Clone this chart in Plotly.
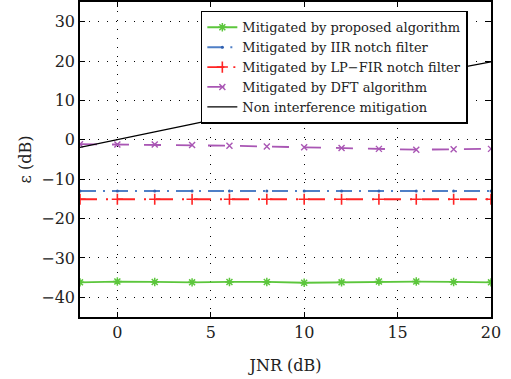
import plotly.graph_objects as go

jnr = [-2, 0, 2, 4, 6, 8, 10, 12, 14, 16, 18, 20]
proposed = [-36.2, -36.0, -36.1, -36.2, -36.1, -36.1, -36.3, -36.2, -36.0, -36.0, -36.1, -36.2]
iir = [-13.0, -13.0, -13.0, -13.0, -13.0, -13.0, -13.0, -13.0, -13.0, -13.0, -13.0, -13.0]
lpfir = [-15.1, -15.1, -15.1, -15.1, -15.1, -15.1, -15.1, -15.1, -15.1, -15.1, -15.1, -15.1]
dft = [-1.1, -1.2, -1.2, -1.3, -1.5, -1.7, -1.9, -2.1, -2.3, -2.5, -2.4, -2.3]
nomit = [-1.9, 0.0, 2.0, 4.0, 6.0, 8.0, 10.0, 12.0, 14.0, 16.0, 18.0, 19.8]

names = ["Mitigated by proposed algorithm", "Mitigated by IIR notch filter",
         "Mitigated by LP\u2212FIR notch filter", "Mitigated by DFT algorithm",
         "Non interference mitigation"]

FONT = "DejaVu Serif, Liberation Serif, serif"
TXT = "#222"
fig = go.Figure()
fig.add_trace(go.Scatter(x=jnr, y=proposed, name=names[0], mode="lines+markers",
                         line=dict(color="#5cc63c", width=1.8),
                         marker=dict(symbol="asterisk-open", size=7, color="#5cc63c",
                                     line=dict(color="#5cc63c", width=1.5))))
fig.add_trace(go.Scatter(x=jnr, y=iir, name=names[1], mode="lines+markers",
                         line=dict(color="#4f7fc6", width=2, dash="16px,7px,2px,7px"),
                         marker=dict(symbol="circle", size=3, color="#3060b0")))
fig.add_trace(go.Scatter(x=jnr, y=lpfir, name=names[2], mode="lines+markers",
                         line=dict(color="#ff2424", width=1.8, dash="17px,9px,2px,10px"),
                         marker=dict(symbol="cross-thin-open", size=8, color="#ff2424",
                                     line=dict(color="#ff2424", width=1.6))))
fig.add_trace(go.Scatter(x=jnr, y=dft, name=names[3], mode="lines+markers",
                         line=dict(color="#a956b4", width=1.8, dash="17px,15px"),
                         marker=dict(symbol="x-thin-open", size=6, color="#a956b4",
                                     line=dict(color="#a956b4", width=1.4))))
fig.add_trace(go.Scatter(x=jnr, y=nomit, name=names[4], mode="lines",
                         line=dict(color="black", width=1.3)))

axis_common = dict(showline=True, linecolor="black", linewidth=1.5, mirror="ticks",
                   ticks="inside", ticklen=5, tickcolor="black", tickwidth=1,
                   showgrid=True, gridcolor="black", gridwidth=1, griddash="1px,8px",
                   zeroline=False, tickfont=dict(family=FONT, size=16, color=TXT))
fig.update_xaxes(range=[-2, 20], tick0=0, dtick=5,
                 title=dict(text="JNR (dB)", font=dict(family=FONT, size=16, color=TXT), standoff=19),
                 **axis_common)
fig.update_yaxes(range=[-45, 35], tick0=0, dtick=10,
                 title=dict(text="\u03b5 (dB)", font=dict(family=FONT, size=16, color=TXT), standoff=6),
                 **axis_common)
fig.update_layout(width=511, height=379, margin=dict(l=80, r=20, t=0, b=62),
                  plot_bgcolor="white", paper_bgcolor="white",
                  showlegend=True,
                  legend=dict(x=0.294, y=0.972, xanchor="left", yanchor="top",
                              bgcolor="white", bordercolor="black", borderwidth=1.5,
                              font=dict(family=FONT, size=13, color=TXT),
                              tracegroupgap=0, itemwidth=30))
fig.write_html("out.html", config={"displayModeBar": False},
               post_script="document.body.style.margin='0';document.body.style.padding='0';")
